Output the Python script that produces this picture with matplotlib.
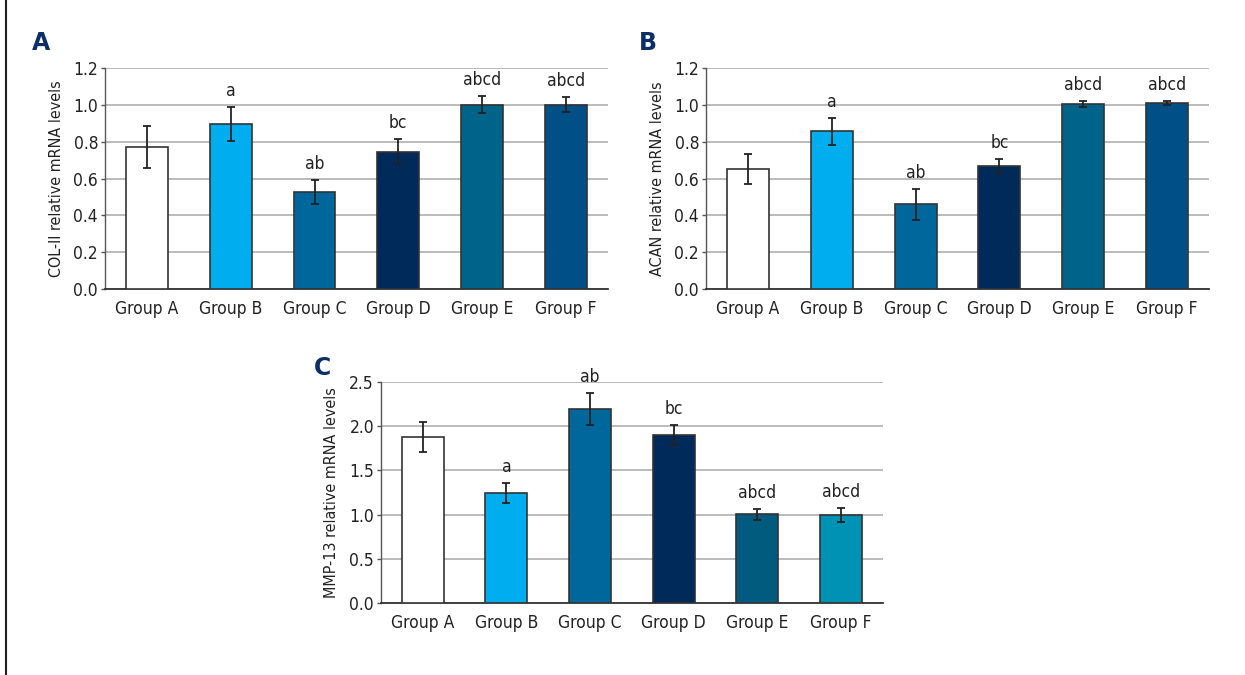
import matplotlib
matplotlib.use("Agg")
import matplotlib.pyplot as plt
from matplotlib import font_manager
from matplotlib.lines import Line2D

groups = ["Group A", "Group B", "Group C", "Group D", "Group E", "Group F"]

col2_vals = [0.772, 0.895, 0.525, 0.745, 1.000, 1.000]
col2_err = [0.115, 0.094, 0.065, 0.067, 0.045, 0.040]
col2_sig = ["", "a", "ab", "bc", "abcd", "abcd"]

acan_vals = [0.651, 0.855, 0.460, 0.668, 1.003, 1.009]
acan_err = [0.083, 0.074, 0.085, 0.036, 0.018, 0.010]
acan_sig = ["", "a", "ab", "bc", "abcd", "abcd"]

mmp_vals = [1.880, 1.241, 2.196, 1.899, 1.004, 0.996]
mmp_err = [0.170, 0.113, 0.180, 0.116, 0.064, 0.083]
mmp_sig = ["", "a", "ab", "bc", "abcd", "abcd"]

colors_ab = ["#FFFFFF", "#00AEEF", "#00679D", "#002A5A", "#00648A", "#005088"]
colors_c = ["#FFFFFF", "#00AEEF", "#00679D", "#002A5A", "#005B7F", "#0092B4"]

# pick a condensed font if one is installed
cond = None
for f in font_manager.fontManager.ttflist:
    if f.stretch in ("condensed", "semi-condensed", "extra-condensed") and f.weight in (400, "normal", "regular") and f.style == "normal":
        if cond is None or f.name == "DejaVu Sans":
            cond = f
if cond is not None:
    plt.rcParams["font.family"] = [cond.name, "DejaVu Sans"]
    plt.rcParams["font.stretch"] = cond.stretch
else:
    plt.rcParams["font.family"] = ["DejaVu Sans"]
FS = 12.5

fig = plt.figure(figsize=(12.45, 6.75), dpi=100)

def panel(rect, vals, errs, sigs, colors, ylim, step, ylabel, letter, letter_pos):
    ax = fig.add_axes(rect)
    x = range(len(groups))
    ax.bar(x, vals, width=0.5, color=colors, edgecolor="#333333", linewidth=1.2, zorder=3)
    ax.errorbar(x, vals, yerr=errs, fmt="none", ecolor="#222222", elinewidth=1.3,
                capsize=3, capthick=1.3, zorder=4)
    for xi, v, e, s in zip(x, vals, errs, sigs):
        if s:
            ax.annotate(s, (xi, v + e), xytext=(0, 5), textcoords="offset points",
                        ha="center", va="bottom", fontsize=FS, color="#222222")
    ax.set_xlim(-0.5, len(groups) - 0.5)
    ax.set_ylim(*ylim)
    n = int(round((ylim[1] - ylim[0]) / step))
    ticks = [ylim[0] + i * step for i in range(n + 1)]
    ax.set_yticks(ticks)
    ax.set_yticklabels([f"{t:.1f}" for t in ticks])
    ax.set_xticks(list(x))
    ax.set_xticklabels(groups)
    ax.yaxis.grid(True, color="#A8A8A8", linewidth=1.1, zorder=0)
    ax.set_axisbelow(True)
    for sp in ["top", "right"]:
        ax.spines[sp].set_visible(False)
    ax.spines["left"].set_color("#555555")
    ax.spines["left"].set_linewidth(1.0)
    ax.spines["bottom"].set_color("#333333")
    ax.spines["bottom"].set_linewidth(1.3)
    ax.tick_params(axis="y", length=3, width=1, color="#555555", labelsize=FS,
                   labelcolor="#222222", pad=2)
    ax.tick_params(axis="x", length=0, labelsize=FS, labelcolor="#222222", pad=8)
    ax.set_ylabel(ylabel, fontsize=11.5, color="#222222", labelpad=7)
    fig.text(letter_pos[0], letter_pos[1], letter, fontsize=17, fontweight="bold",
             color="#0B2F66", family="DejaVu Sans", stretch="normal", ha="left", va="center")
    return ax

panel([0.0843, 0.5714, 0.404, 0.3283], col2_vals, col2_err, col2_sig, colors_ab,
      (0, 1.2), 0.2, "COL-II relative mRNA levels", "A", (0.026, 0.937))
panel([0.5671, 0.5714, 0.404, 0.3283], acan_vals, acan_err, acan_sig, colors_ab,
      (0, 1.2), 0.2, "ACAN relative mRNA levels", "B", (0.513, 0.937))
panel([0.306, 0.1062, 0.403, 0.3283], mmp_vals, mmp_err, mmp_sig, colors_c,
      (0, 2.5), 0.5, "MMP-13 relative mRNA levels", "C", (0.252, 0.455))

fig.add_artist(Line2D([6 / 1245, 6 / 1245], [0, 1], transform=fig.transFigure,
                      color="#222222", linewidth=1.5))

fig.savefig("out.png", dpi=100)
